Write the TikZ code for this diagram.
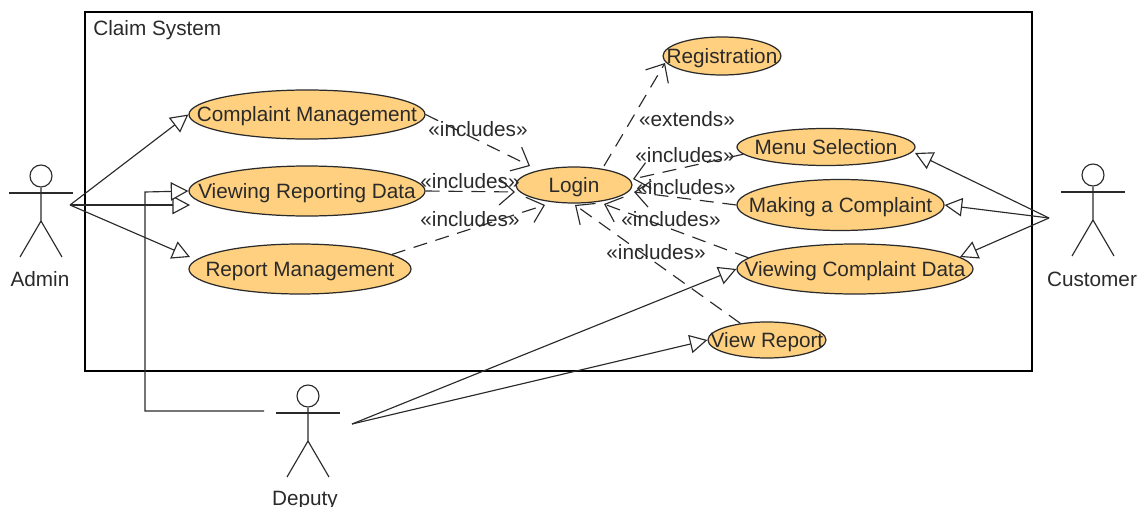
\documentclass[tikz,border=0pt]{standalone}
\usepackage{fontspec}
\setmainfont{Liberation Sans}
\usetikzlibrary{shapes.geometric,arrows.meta}
\definecolor{ucfill}{HTML}{FFD07F}
\definecolor{inkgrey}{HTML}{2A2A2A}
\newcommand{\uctext}[1]{\makebox[0pt]{\raisebox{-.36em}[0pt][0pt]{#1}}}
\tikzset{
    usecase/.style 2 args={draw=inkgrey,fill=ucfill,ellipse,inner sep=0pt,line width=0.7pt,
        minimum width=#1*0.02cm,minimum height=#2*0.02cm},
    assoc/.style={draw=inkgrey,line width=0.65pt,-{Triangle[open,fill=white,length=10pt,width=10.5pt]}},
    plainline/.style={draw=inkgrey,line width=0.65pt},
    depend/.style={draw=inkgrey,line width=0.65pt,dash pattern=on 8pt off 5pt,-{Straight Barb[length=8.5pt,width=15pt]}},
    stereo/.style={inner sep=0pt},
    every node/.append style={font=\fontsize{11.8}{14}\selectfont,text=inkgrey}
}
\begin{document}
\begin{tikzpicture}[x=0.02cm,y=-0.02cm]
    \useasboundingbox (0,0) rectangle (1140,507);
    \node (system) [draw,line width=0.7pt,minimum width=18.94cm,minimum height=7.18cm,inner sep=0pt] at (558.5,191.5) {};
    \node (systemname) [inner sep=0pt,anchor=west] at (93,30) {Claim System};
    % actors
    \foreach \nm/\ax/\ay/\lx/\ly/\txt in {admin/41/176/40/279.5/Admin,customer/1093/175/1092/279.5/Customer,deputy/308/396/305/500.5/Deputy} {
        \node (\nm) [draw=inkgrey,circle,line width=0.65pt,minimum size=0.44cm,inner sep=0pt] at (\ax,\ay) {};
        \draw [plainline] (\nm.south) -- (\ax,\ay+45) -- ++(-21,36);
        \draw [plainline] (\ax,\ay+45) -- ++(21,36);
        \draw [plainline] (\ax-32,\ay+17) -- ++(64,0);
        \node (\nm label) [inner sep=0pt] at (\lx,\ly) {\txt};
    }
    \coordinate (adminport) at (70,205);
    \coordinate (customerport) at (1049,218);
    \coordinate (deputyport) at (352,424);
    \coordinate (deputyleft) at (264,411);
    % use cases
    \node (complaintmgmt) [usecase={236}{49}] at (307,114.5) {\uctext{Complaint Management}};
    \node (viewreporting) [usecase={236}{50}] at (307,191) {\uctext{Viewing Reporting Data}};
    \node (reportmgmt) [usecase={222}{50}] at (300,269) {\uctext{Report Management}};
    \node (login) [usecase={116}{36}] at (574,185) {\uctext{Login}};
    \node (registration) [usecase={118}{38}] at (722,56) {\uctext{Registration}};
    \node (menusel) [usecase={178}{37}] at (826,147) {\uctext{Menu Selection}};
    \node (makecomplaint) [usecase={207}{51}] at (840.5,205) {\uctext{Making a Complaint}};
    \node (viewcomplaint) [usecase={236}{50}] at (855,269) {\uctext{Viewing Complaint Data}};
    \node (viewreport) [usecase={118}{36}] at (767,340) {\uctext{View Report}};
    % free ends of the arrows
    \coordinate (adminmid) at (190,205);
    \coordinate (adminlow) at (190,257);
    \coordinate (custtop) at (915,153);
    \coordinate (custlow) at (960,257);
    \coordinate (elbowlow) at (145,411);
    \coordinate (elbowup) at (145,192);
    \coordinate (loginnw) at (530,166);
    \coordinate (loginsw) at (545,205);
    \coordinate (loginne) at (633,179);
    \coordinate (logine) at (634,192);
    \coordinate (loginse) at (604,204);
    \coordinate (logins) at (575,205);
    \coordinate (loginw) at (515,192);
    \coordinate (logintop) at (604,166);
    \coordinate (regtip) at (665,63);
    % associations
    \draw [assoc] (adminport) -- (complaintmgmt.west);
    \draw [assoc] (adminport) -- (adminmid);
    \draw [assoc] (adminport) -- (adminlow);
    \draw [assoc] (deputyleft) -- (elbowlow) -- (elbowup) -- (viewreporting.west);
    \draw [assoc] (deputyport) -- (viewcomplaint.west);
    \draw [assoc] (deputyport) -- (viewreport.west);
    \draw [assoc] (customerport) -- (custtop);
    \draw [assoc] (customerport) -- (makecomplaint.east);
    \draw [assoc] (customerport) -- (custlow);
    % dependencies
    \draw [depend] (complaintmgmt.east) -- (loginnw);
    \draw [depend] (viewreporting.east) -- (loginw);
    \draw [depend] (reportmgmt.9) -- (loginsw);
    \draw [depend] (logintop) -- (regtip);
    \draw [depend] (menusel.185) -- (loginne);
    \draw [depend] (makecomplaint.west) -- (logine);
    \draw [depend] (viewcomplaint.174) -- (loginse);
    \draw [depend] (viewreport.148) -- (logins);
    % stereotypes
    \node (inca) [stereo] at (478,129) {«includes»};
    \node (incb) [stereo] at (470,181) {«includes»};
    \node (incc) [stereo] at (470,219) {«includes»};
    \node (ext) [stereo] at (687,119) {«extends»};
    \node (incd) [stereo] at (685,155) {«includes»};
    \node (ince) [stereo] at (686,187) {«includes»};
    \node (incf) [stereo] at (671,219) {«includes»};
    \node (incg) [stereo] at (656,252) {«includes»};
\end{tikzpicture}
\end{document}
